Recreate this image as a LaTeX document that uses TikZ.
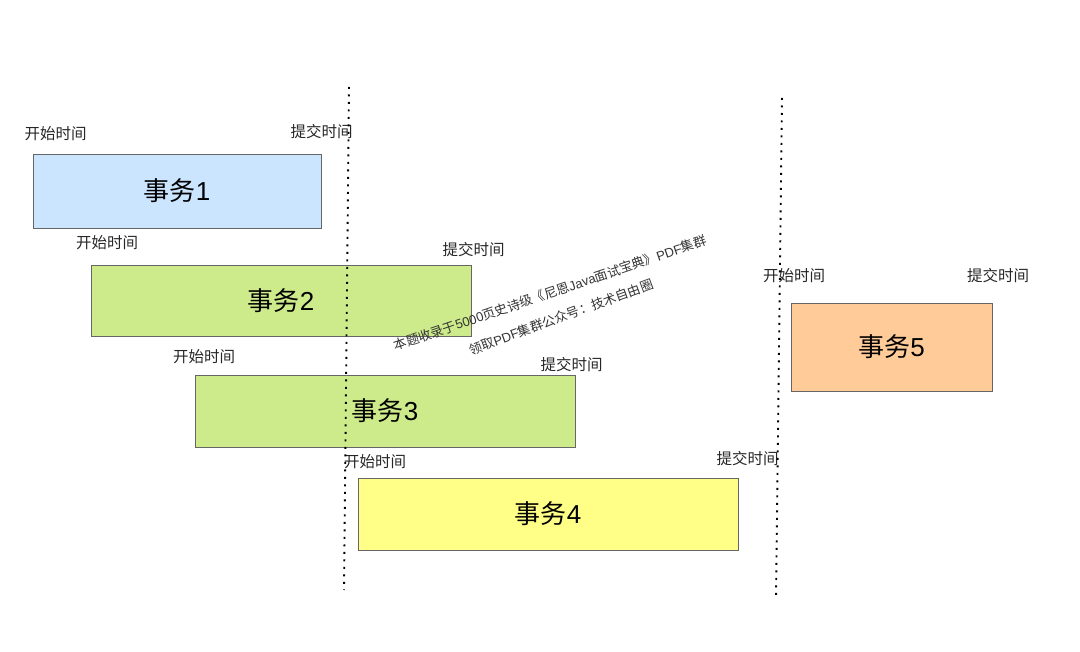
\documentclass[tikz,border=0pt]{standalone}
\usepackage{fontspec}
\setmainfont{Liberation Sans}
\newfontfamily\cjk{Noto Sans CJK SC}
\definecolor{txblue}{HTML}{CCE5FF}
\definecolor{txgreen}{HTML}{CDEB8B}
\definecolor{txyellow}{HTML}{FFFF88}
\definecolor{txorange}{HTML}{FFCC99}
\definecolor{txedge}{HTML}{666666}
\begin{document}
\begin{tikzpicture}[x=1pt, y=-1pt,
 tx/.style={draw=txedge, line width=0.9pt, inner sep=0pt, font=\fontsize{26}{29}\selectfont},
 lbl/.style={inner sep=0pt, font=\cjk\fontsize{15.5}{18}\selectfont, text=black!85},
 watermark/.style={inner sep=0pt, font=\fontsize{13}{15}\selectfont, text=black!80},
 sepline/.style={line width=1.9pt, dash pattern=on 1.9pt off 5.6pt}]
\useasboundingbox (0,0) rectangle (1080,652);
% transactions
\node[tx,fill=txblue,minimum width=288pt,minimum height=74pt] (tx1) at (177,191) {{\cjk 事务}1};
\node[tx,fill=txgreen,minimum width=380pt,minimum height=71pt] (tx2) at (281,300.5) {{\cjk 事务}2};
\node[tx,fill=txgreen,minimum width=380pt,minimum height=72pt] (tx3) at (385,411) {{\cjk 事务}3};
\node[tx,fill=txyellow,minimum width=380pt,minimum height=72pt] (tx4) at (548,514) {{\cjk 事务}4};
\node[tx,fill=txorange,minimum width=201pt,minimum height=88pt] (tx5) at (891.5,347) {{\cjk 事务}5};
% start / commit labels
\node[lbl] (start1) at (55.5,134) {开始时间};
\node[lbl] (commit1) at (321.5,132) {提交时间};
\node[lbl] (start2) at (107,243) {开始时间};
\node[lbl] (commit2) at (473.5,250) {提交时间};
\node[lbl] (start3) at (204,357) {开始时间};
\node[lbl] (commit3) at (571.5,365) {提交时间};
\node[lbl] (start4) at (375,462) {开始时间};
\node[lbl] (commit4) at (747.5,459) {提交时间};
\node[lbl] (start5) at (794,276) {开始时间};
\node[lbl] (commit5) at (998,276) {提交时间};
% dotted separators
\coordinate (cut1a) at (349,87);
\coordinate (cut1b) at (344,590);
\coordinate (cut2a) at (782,98);
\coordinate (cut2b) at (776,600);
\draw[sepline] (cut1a) -- (cut1b);
\draw[sepline] (cut2a) -- (cut2b);
% watermark
\node[watermark,rotate=18.8] (wm1) at (550,293) {{\cjk 本题收录于}5000{\cjk 页史诗级《尼恩}Java{\cjk 面试宝典》}PDF{\cjk 集群}};
\node[watermark,rotate=20] (wm2) at (561,317) {{\cjk 领取}PDF{\cjk 集群公众号：技术自由圈}};
\end{tikzpicture}
\end{document}
